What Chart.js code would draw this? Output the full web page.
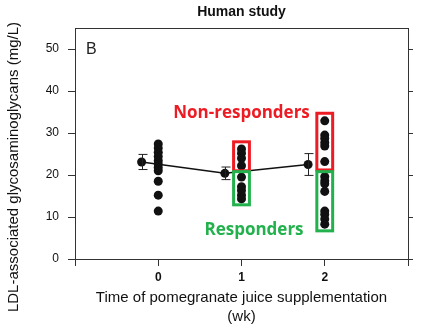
<!DOCTYPE html>
<html>
<head>
    <script src="https://cdn.jsdelivr.net/npm/chart.js@4.4.1/dist/chart.umd.min.js"></script>
    <style>
        html, body { margin: 0; padding: 0; background: #fff; }
        #wrap { width: 428px; height: 330px; position: relative; }
    </style>
    <title>Human study - LDL glycosaminoglycans</title>
</head>
<body>
<div id="wrap"><canvas id="myChart"></canvas></div>
<script>
    // weeks of juice supplementation
    var weeks = [0, 1, 2];
    // group means are drawn slightly left of each column
    var meanX = [-0.2, 0.8, 1.8];
    var meanLDL = [23.1, 20.4, 22.5];
    var meanErr = [1.8, 1.5, 2.6];

    // individual subjects (mg/L)
    var week0 = [27.4, 26.4, 25.4, 24.4, 23.4, 22.6, 21.8, 21.0, 18.5, 15.2, 11.4];
    var week1 = [26.2, 25.2, 24.0, 22.2, 19.5, 17.2, 16.3, 15.2, 14.3];
    var week2 = [32.9, 29.5, 28.7, 27.7, 26.9, 23.2, 19.6, 18.6, 17.9, 16.1, 11.4, 10.6, 9.5, 8.3];

    // value ranges of the two response groups at weeks 1 and 2
    var nonResponderRange = [[21.0, 27.9], [21.2, 34.7]];
    var responderRange = [[12.9, 20.8], [6.7, 20.8]];

    var yTicks = [0, 10, 20, 30, 40, 50];

    var RED = '#ed1c24';
    var GREEN = '#22b14c';

    function toPoints(xs, ys) {
        return ys.map(function (y, i) { return { x: Array.isArray(xs) ? xs[i] : xs, y: y }; });
    }

    var subjects = [].concat(
        toPoints(weeks[0], week0),
        toPoints(weeks[1], week1),
        toPoints(weeks[2], week2)
    );

    // error bars, group boxes and free text
    var extras = {
        id: 'extras',
        afterDatasetsDraw: function (chart) {
            var ctx = chart.ctx;
            var xs = chart.scales.x, ys = chart.scales.y;
            ctx.save();

            // SE bars on the means
            ctx.strokeStyle = '#222';
            ctx.lineWidth = 1;
            meanX.forEach(function (mx, i) {
                var px = Math.round(xs.getPixelForValue(mx)) + 0.5;
                var top = ys.getPixelForValue(meanLDL[i] + meanErr[i]);
                var bot = ys.getPixelForValue(meanLDL[i] - meanErr[i]);
                ctx.beginPath();
                ctx.moveTo(px, top); ctx.lineTo(px, bot);
                ctx.moveTo(px - 4, top); ctx.lineTo(px + 5, top);
                ctx.moveTo(px - 4, bot); ctx.lineTo(px + 5, bot);
                ctx.stroke();
            });

            // group boxes
            function box(week, range, color) {
                var l = xs.getPixelForValue(week - 0.095);
                var r = xs.getPixelForValue(week + 0.095);
                var t = ys.getPixelForValue(range[1]);
                var b = ys.getPixelForValue(range[0]);
                ctx.strokeStyle = color;
                ctx.lineWidth = 3;
                ctx.strokeRect(l, t, r - l, b - t);
            }
            box(1, nonResponderRange[0], RED);
            box(2, nonResponderRange[1], RED);
            box(1, responderRange[0], GREEN);
            box(2, responderRange[1], GREEN);

            ctx.textAlign = 'center';
            ctx.textBaseline = 'middle';
            ctx.font = 'bold 17px "Open Sans"';
            ctx.fillStyle = RED;
            ctx.fillText('Non-responders', xs.getPixelForValue(1.0), ys.getPixelForValue(34.8));
            ctx.fillStyle = GREEN;
            ctx.fillText('Responders', xs.getPixelForValue(1.15), ys.getPixelForValue(6.9));

            // panel letter
            ctx.fillStyle = '#222';
            ctx.textAlign = 'left';
            ctx.font = '16px "Liberation Sans"';
            ctx.fillText('B', chart.chartArea.left + 11, ys.getPixelForValue(49.8));
            ctx.restore();
        },
        afterDraw: function (chart) {
            var ctx = chart.ctx;
            var area = chart.chartArea;
            ctx.save();
            ctx.fillStyle = '#111';
            ctx.textAlign = 'center';
            ctx.textBaseline = 'middle';
            ctx.font = 'bold 14px "Liberation Sans"';
            ctx.fillText('Human study', (area.left + area.right) / 2, 12);

            ctx.font = '15px "Liberation Sans"';
            ctx.fillText('Time of pomegranate juice supplementation', (area.left + area.right) / 2, 298);
            ctx.fillText('(wk)', (area.left + area.right) / 2, 317);

            ctx.translate(14, 167);
            ctx.rotate(-Math.PI / 2);
            ctx.fillText('LDL-associated glycosaminoglycans (mg/L)', 0, 0);
            ctx.restore();
        }
    };

    var axisGrid = {
        drawOnChartArea: false,
        drawTicks: true,
        tickLength: 7,
        color: '#333',
        lineWidth: 1
    };
    var axisBorder = { display: true, color: '#333', width: 1 };

    var ctx = document.getElementById('myChart').getContext('2d');
    var myChart = new Chart(ctx, {
        data: {
            datasets: [{
                type: 'line',
                label: 'Mean',
                data: toPoints(meanX, meanLDL),
                borderColor: '#111',
                backgroundColor: '#111',
                borderWidth: 1.5,
                pointRadius: 4.5,
                pointBorderWidth: 0,
                pointHoverRadius: 4.5,
                tension: 0
            }, {
                type: 'scatter',
                label: 'Subjects',
                data: subjects,
                borderColor: '#111',
                backgroundColor: '#111',
                pointRadius: 4.5,
                pointBorderWidth: 0,
                pointHoverRadius: 4.5
            }]
        },
        options: {
            responsive: true,
            maintainAspectRatio: false,
            animation: false,
            layout: { padding: { top: 28, left: 0, right: 0, bottom: 0 } },
            plugins: {
                legend: { display: false },
                tooltip: { enabled: false },
                title: { display: false }
            },
            scales: {
                x: {
                    type: 'linear',
                    position: 'bottom',
                    min: -1,
                    max: 3,
                    ticks: {
                        stepSize: 1,
                        padding: 4,
                        color: '#111',
                        font: { family: 'Liberation Sans', size: 12, weight: 'bold' },
                        callback: function (v) { return weeks.indexOf(v) >= 0 ? String(v) : ''; }
                    },
                    grid: axisGrid,
                    border: axisBorder,
                    afterFit: function (s) { s.height = 71; }
                },
                xTop: {
                    type: 'linear',
                    position: 'top',
                    min: -1,
                    max: 3,
                    ticks: { display: false },
                    grid: { display: true, drawOnChartArea: false, drawTicks: false },
                    border: axisBorder,
                    afterFit: function (s) { s.height = 0; }
                },
                y: {
                    type: 'linear',
                    position: 'left',
                    min: 0,
                    max: 55,
                    afterBuildTicks: function (s) {
                        s.ticks = yTicks.map(function (v) { return { value: v }; });
                    },
                    ticks: {
                        padding: 9,
                        color: '#111',
                        font: { family: 'Liberation Sans', size: 12 }
                    },
                    grid: axisGrid,
                    border: axisBorder,
                    afterFit: function (s) { s.width = 75; }
                },
                yRight: {
                    type: 'linear',
                    position: 'right',
                    min: 0,
                    max: 55,
                    afterBuildTicks: function (s) {
                        s.ticks = yTicks.map(function (v) { return { value: v }; });
                    },
                    ticks: { display: false },
                    grid: { drawOnChartArea: false, drawTicks: true, tickLength: 5, color: '#333' },
                    border: axisBorder,
                    afterFit: function (s) { s.width = 20; }
                }
            }
        },
        plugins: [extras]
    });
</script>
</body>
</html>
